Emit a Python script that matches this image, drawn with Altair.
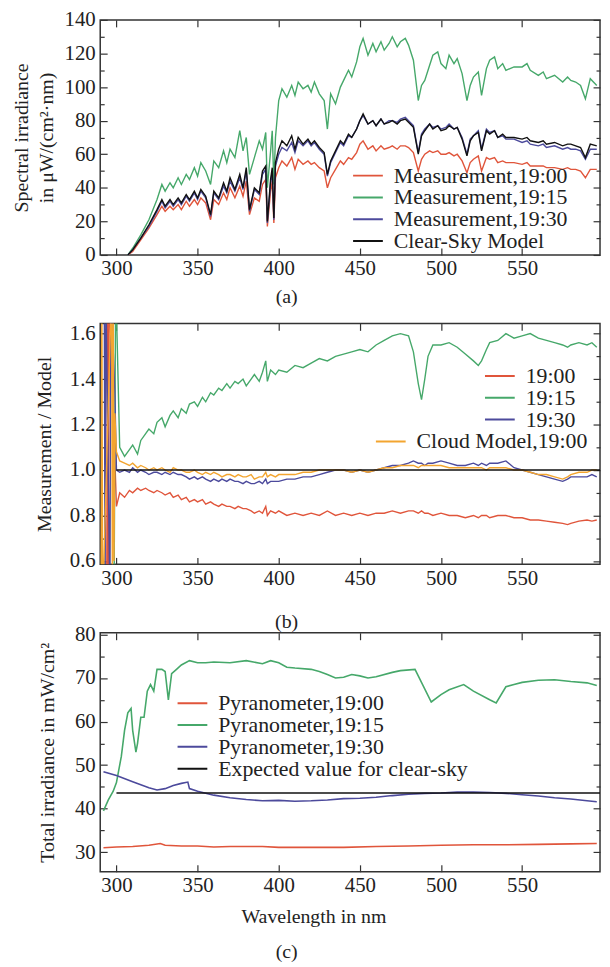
import altair as alt
import pandas as pd

FONT = "Liberation Serif"
W = 504
X_DOMAIN = [290, 598]
X_TICKS = [300, 350, 400, 450, 500, 550]

C_RED = "#e0553b"
C_GREEN = "#46a86a"
C_BLUE = "#4c4a9c"
C_BLACK = "#111111"
C_ORANGE = "#f3a530"

# ---------------- Panel (a) ----------------
A_SERIES = ["Measurement,19:00", "Measurement,19:15", "Measurement,19:30", "Clear-Sky Model"]
A_WL = [307, 310, 315, 320, 325, 328, 330, 333, 335, 338,
        340, 343, 345, 348, 350, 352, 355, 358, 360, 363,
        366, 368, 370, 373, 376, 378, 380, 382, 385, 388,
        390, 392, 393, 395, 396, 397, 398, 400, 402, 405,
        408, 410, 412, 415, 418, 420, 422, 425, 428, 430,
        432, 435, 438, 440, 443, 445, 448, 450, 452, 455,
        458, 460, 463, 465, 468, 470, 473, 475, 478, 480,
        483, 486, 488, 490, 493, 495, 498, 500, 503, 505,
        508, 510, 513, 516, 518, 520, 523, 525, 528, 530,
        533, 535, 538, 540, 545, 550, 553, 555, 560, 563,
        565, 570, 575, 578, 580, 583, 586, 589, 592, 596]
A_1915 = [0, 4, 12, 21, 33, 42, 38, 43, 40, 46,
          42, 48, 45, 52, 47, 55, 50, 42, 56, 52,
          62, 55, 63, 58, 74, 62, 70, 48, 58, 68,
          63, 73, 40, 62, 74, 42, 70, 92, 99, 94,
          101, 95, 103, 99, 101, 97, 103, 96, 92, 75,
          96, 90, 100, 104, 110, 106, 115, 124, 129, 119,
          126, 121, 127, 122, 126, 130, 124, 127, 129, 125,
          116, 92, 101, 104, 113, 119, 121, 114, 111, 119,
          114, 117, 108, 92, 101, 106, 109, 95, 111, 116,
          118, 111, 114, 110, 112, 112, 114, 110, 107, 109,
          105, 107, 103, 106, 104, 103, 101, 93, 105, 101]
A_CLEAR = [0, 3, 10, 18, 27, 33, 29, 33, 30, 34,
           31, 36, 33, 38, 34, 39, 35, 24, 38, 34,
           43, 38, 46, 39, 48, 40, 52, 27, 40, 37,
           50, 53, 20, 45, 52, 22, 55, 63, 68, 65,
           71, 63, 70, 66, 69, 66, 68, 64, 61, 48,
           56, 62, 68, 66, 72, 70, 75, 80, 84, 78,
           80, 77, 81, 78, 79, 80, 78, 80, 81, 79,
           76, 60, 71, 74, 78, 75, 77, 74, 75, 77,
           75, 76, 69, 59, 68, 71, 73, 62, 74, 72,
           74, 70, 72, 70, 70, 69, 70, 68, 67, 68,
           66, 67, 65, 66, 66, 65, 64, 58, 66, 65]
A_1930 = [0, 3, 10, 17, 26, 32, 28, 32, 29, 33,
          30, 35, 32, 37, 33, 38, 34, 23, 37, 33,
          41, 37, 44, 38, 46, 39, 50, 26, 39, 36,
          48, 51, 19, 43, 50, 21, 53, 60, 64, 62,
          67, 61, 68, 65, 68, 65, 67, 63, 60, 47,
          55, 61, 67, 65, 71, 70, 75, 80, 83, 78,
          80, 77, 81, 78, 80, 80, 79, 81, 82, 80,
          77, 61, 72, 75, 78, 76, 77, 75, 76, 78,
          75, 76, 70, 60, 69, 71, 74, 63, 75, 73,
          74, 70, 71, 69, 69, 67, 68, 66, 65, 66,
          64, 65, 63, 64, 63, 63, 62, 57, 63, 63]
A_1900 = [0, 2, 9, 16, 24, 29, 26, 29, 27, 30,
          27, 32, 29, 33, 30, 34, 31, 21, 33, 30,
          37, 33, 40, 34, 41, 35, 44, 24, 34, 32,
          42, 45, 17, 38, 44, 19, 46, 52, 56, 53,
          58, 51, 57, 54, 56, 54, 55, 52, 50, 40,
          46, 51, 56, 54, 58, 57, 61, 66, 68, 63,
          65, 62, 65, 63, 64, 65, 63, 65, 65, 64,
          61, 50, 57, 60, 62, 61, 62, 60, 60, 61,
          59, 60, 56, 49, 55, 57, 59, 50, 58, 57,
          58, 55, 56, 55, 55, 54, 55, 53, 53, 53,
          52, 52, 51, 52, 51, 51, 50, 46, 51, 51]
A_YDOMAIN = [0, 140]
A_YLABELS = [0, 20, 40, 60, 80, 100, 120, 140]
A_YTICKS = [0, 10, 20, 30, 40, 50, 60, 70, 80, 90, 100, 110, 120, 130, 140]

# ---------------- Panel (b) ----------------
B_SERIES = ["19:00", "19:15", "19:30"]
B_CLOUD = ["Cloud  Model,19:00"]
B_WL = [300, 302, 305, 308, 310, 313, 315, 318, 320, 323,
        325, 328, 330, 333, 335, 338, 340, 343, 345, 348,
        350, 353, 355, 358, 360, 363, 365, 368, 370, 373,
        375, 378, 380, 383, 385, 388, 390, 392, 393, 395,
        398, 400, 405, 410, 415, 420, 425, 430, 435, 440,
        445, 450, 455, 460, 465, 470, 475, 480, 483, 486,
        488, 490, 492, 495, 500, 505, 510, 515, 520, 523,
        525, 528, 530, 535, 540, 545, 550, 555, 560, 565,
        570, 575, 578, 580, 585, 590, 593, 596]
B_1915 = [1.70, 1.10, 1.06, 1.09, 1.11, 1.07, 1.13, 1.16, 1.18, 1.16,
          1.21, 1.23, 1.19, 1.24, 1.26, 1.23, 1.27, 1.25, 1.29, 1.30,
          1.28, 1.32, 1.30, 1.34, 1.33, 1.36, 1.35, 1.38, 1.36, 1.39,
          1.38, 1.40, 1.37, 1.40, 1.42, 1.39, 1.43, 1.48, 1.39, 1.44,
          1.42, 1.44, 1.43, 1.46, 1.45, 1.47, 1.49, 1.48, 1.50, 1.51,
          1.52, 1.53, 1.52, 1.55, 1.57, 1.59, 1.60, 1.59, 1.52, 1.38,
          1.31, 1.40, 1.50, 1.55, 1.55, 1.56, 1.54, 1.51, 1.48, 1.46,
          1.48, 1.53, 1.56, 1.57, 1.60, 1.58, 1.59, 1.60, 1.58, 1.57,
          1.56, 1.55, 1.54, 1.55, 1.56, 1.55, 1.56, 1.54]
B_1900 = [0.84, 0.90, 0.88, 0.91, 0.90, 0.92, 0.91, 0.92, 0.91, 0.90,
          0.91, 0.90, 0.89, 0.90, 0.88, 0.89, 0.87, 0.88, 0.86, 0.87,
          0.86, 0.87, 0.85, 0.86, 0.85, 0.84, 0.85, 0.84, 0.84, 0.83,
          0.84, 0.83, 0.83, 0.82, 0.81, 0.82, 0.81, 0.84, 0.80, 0.82,
          0.81, 0.82, 0.80, 0.81, 0.80, 0.81, 0.80, 0.82, 0.80, 0.81,
          0.80, 0.81, 0.80, 0.81, 0.81, 0.82, 0.81, 0.82, 0.82, 0.81,
          0.82, 0.81, 0.81, 0.80, 0.81, 0.80, 0.80, 0.79, 0.80, 0.79,
          0.80, 0.80, 0.79, 0.80, 0.80, 0.79, 0.79, 0.78, 0.78, 0.775,
          0.77, 0.765, 0.76, 0.765, 0.775, 0.78, 0.775, 0.78]
B_1930 = [1.00, 0.99, 1.00, 0.99, 1.01, 0.99, 1.00, 0.99, 0.98, 0.99,
          0.99, 0.98, 0.99, 0.98, 0.99, 0.98, 0.98, 0.97, 0.96, 0.97,
          0.96, 0.97, 0.96, 0.95, 0.96, 0.95, 0.96, 0.95, 0.96, 0.95,
          0.95, 0.94, 0.95, 0.94, 0.94, 0.95, 0.94, 0.96, 0.94, 0.95,
          0.95, 0.95, 0.96, 0.96, 0.97, 0.97, 0.98, 0.99, 1.00, 1.00,
          0.99, 1.00, 0.99, 1.00, 1.01, 1.02, 1.02, 1.03, 1.04, 1.03,
          1.03, 1.02, 1.03, 1.03, 1.04, 1.03, 1.02, 1.02, 1.03, 1.02,
          1.03, 1.02, 1.03, 1.03, 1.04, 1.01, 1.00, 0.99, 0.98, 0.97,
          0.96, 0.95, 0.96, 0.97, 0.97, 0.97, 0.98, 0.97]
B_CLOUD_VALS = [1.08, 1.04, 1.03, 1.02, 1.03, 1.01, 1.02, 1.01, 1.00, 1.01,
                1.00, 1.01, 1.00, 0.99, 1.01, 1.00, 1.00, 0.99, 0.99, 1.00,
                0.99, 0.98, 0.99, 0.98, 0.99, 0.98, 0.97, 0.98, 0.98, 0.97,
                0.98, 0.97, 0.97, 0.98, 0.96, 0.97, 0.97, 0.99, 0.97, 0.98,
                0.97, 0.98, 0.98, 0.98, 0.99, 0.99, 1.00, 1.00, 1.00, 1.00,
                0.99, 1.00, 0.99, 1.00, 1.01, 1.01, 1.02, 1.02, 1.02, 1.01,
                1.02, 1.02, 1.02, 1.02, 1.02, 1.01, 1.01, 1.01, 1.01, 1.01,
                1.01, 1.00, 1.01, 1.01, 1.01, 1.00, 1.00, 0.99, 0.98, 0.98,
                0.97, 0.96, 0.97, 0.98, 0.99, 0.99, 1.00, 1.00]
# noisy start below 300 nm
B_SPIKE_WL_1900 = [294, 294.5, 295, 295.5]
B_SPIKE_1900 = [0.40, 1.80, 0.40, 1.80]
B_SPIKE_WL_1915 = [298.5, 299.5]
B_SPIKE_1915 = [0.40, 1.80]
B_SPIKE_WL_1930 = [292.5, 293, 293.5, 296, 296.5, 299]
B_SPIKE_1930 = [1.80, 0.40, 1.80, 0.40, 1.80, 1.35]
B_SPIKE_WL_CLOUD = [290.5, 291, 291.5, 297, 297.5, 298, 298.5, 299]
B_SPIKE_CLOUD = [0.40, 1.80, 0.40, 1.80, 0.40, 1.80, 0.60, 1.25]
B_REF_WL = [300, 598]
B_REF = [1.0, 1.0]
B_YDOMAIN = [0.585, 1.645]
B_YLABELS = [0.6, 0.8, 1.0, 1.2, 1.4, 1.6]
B_YTICKS = [0.6, 0.7, 0.8, 0.9, 1.0, 1.1, 1.2, 1.3, 1.4, 1.5, 1.6]

# ---------------- Panel (c) ----------------
C_SERIES = ["Pyranometer,19:00", "Pyranometer,19:15", "Pyranometer,19:30",
            "Expected value for clear-sky"]
C_WL_1915 = [292, 295, 298, 300, 303, 305, 307, 309, 310, 312,
             313, 315, 317, 319, 321, 323, 325, 328, 330, 332,
             334, 337, 340, 345, 350, 355, 360, 370, 380, 390,
             395, 400, 405, 410, 420, 425, 430, 435, 440, 445,
             450, 455, 460, 470, 475, 484, 494, 500, 505, 514,
             520, 530, 534, 540, 545, 550, 560, 570, 580, 590, 596]
C_1915 = [39.5, 42, 44, 46, 52, 58, 62, 63, 58, 53,
          55, 61, 61, 67, 68.5, 67, 72, 72, 71.5, 65,
          71, 72, 73, 74, 73.5, 73.5, 73.7, 73.5, 74, 73.3,
          74, 73.5, 72.5, 72.3, 72, 71.5, 70.8, 70, 70.2, 70.8,
          70.5, 70, 70.3, 71.3, 71.7, 72, 64.5, 66.2, 67.3, 68.5,
          67, 65, 64.3, 68, 68.5, 69, 69.5, 69.6, 69.2, 68.9, 68.3]
C_WL_1930 = [292, 300, 310, 320, 325, 330, 335, 340, 344, 345,
             350, 360, 370, 380, 390, 400, 410, 420, 430, 440,
             450, 460, 470, 480, 490, 500, 510, 520, 530, 540,
             550, 560, 570, 580, 590, 596]
C_1930 = [48.5, 47.6, 46.2, 44.8, 44.3, 44.6, 45.3, 45.8, 46.1, 44.6,
          44.0, 43.1, 42.5, 42.1, 41.8, 41.9, 41.7, 41.8, 42.0, 42.3,
          42.4, 42.6, 43.0, 43.3, 43.5, 43.6, 43.8, 43.8, 43.7, 43.5,
          43.2, 42.9, 42.5, 42.2, 41.8, 41.6]
C_WL_1900 = [292, 300, 310, 320, 327, 330, 340, 350, 360, 370,
             380, 390, 400, 420, 440, 460, 480, 500, 520, 540,
             560, 580, 596]
C_1900 = [31.0, 31.2, 31.3, 31.6, 32.0, 31.6, 31.4, 31.4, 31.2, 31.3,
          31.3, 31.3, 31.1, 31.1, 31.1, 31.3, 31.4, 31.6, 31.7, 31.7,
          31.8, 31.9, 32.0]
C_WL_REF = [300, 598]
C_REF = [43.6, 43.6]
C_YDOMAIN = [25.5, 80.4]
C_YLABELS = [30, 40, 50, 60, 70, 80]
C_YTICKS = [30, 35, 40, 45, 50, 55, 60, 65, 70, 75, 80]


def long_df(parts):
    rows = []
    for name, wl, vals in parts:
        for w, v in zip(wl, vals):
            rows.append({"wl": w, "val": v, "series": name})
    return pd.DataFrame(rows)


def scales(ydomain):
    return (alt.Scale(domain=X_DOMAIN, nice=False, zero=False),
            alt.Scale(domain=ydomain, nice=False, zero=False))


def frame_layers(df, ydomain, H, yticks, major_test):
    xs, ys = scales(ydomain)
    common = dict(labels=False, domain=False, grid=False, title=None, ticks=True,
                  tickColor="#333333", tickWidth=1.2)
    ysize = {"condition": {"test": major_test, "value": 7}, "value": 4}
    out = []
    for xo, yo in (("top", "right"), ("bottom", "left")):
        out.append(alt.Chart(df).mark_line(opacity=0, clip=True).encode(
            x=alt.X("wl:Q", scale=xs,
                    axis=alt.Axis(orient=xo, offset=-H, values=X_TICKS, tickSize=7, **common)),
            y=alt.Y("val:Q", scale=ys,
                    axis=alt.Axis(orient=yo, offset=-W, values=yticks, tickSize=ysize, **common)),
            detail="series:N"))
    return out


def label_axes(ydomain, ylabels, yfmt, ytitle, ytitle_pad, xtitle=None):
    xs, ys = scales(ydomain)
    xaxis = dict(orient="bottom", values=X_TICKS, ticks=False, domain=False, grid=False,
                 labelPadding=3)
    if xtitle:
        xaxis.update(title=xtitle, titleX=215, titlePadding=11)
    else:
        xaxis.update(title=None)
    x = alt.X("wl:Q", scale=xs, axis=alt.Axis(**xaxis))
    y = alt.Y("val:Q", scale=ys, axis=alt.Axis(orient="left", values=ylabels, format=yfmt,
                                              ticks=False, domain=False, grid=False,
                                              labelPadding=5, title=ytitle,
                                              titlePadding=ytitle_pad, titleLineHeight=25))
    return x, y


def legend(lx, ly):
    return alt.Legend(orient="none", legendX=lx, legendY=ly, title=None)


def panel_title(txt, offset):
    return alt.TitleParams(txt, orient="bottom", anchor="middle", frame="group", dx=-64,
                           offset=offset, fontSize=20, fontWeight="normal", font=FONT)


# ---- panel a
HA, HB, HC = 237, 243, 241
df_a = long_df([(A_SERIES[0], A_WL, A_1900), (A_SERIES[1], A_WL, A_1915),
                (A_SERIES[2], A_WL, A_1930), (A_SERIES[3], A_WL, A_CLEAR)])
xa, ya = label_axes(A_YDOMAIN, A_YLABELS, "d", ["Spectral irradiance", "in μW/(cm²·nm)"], 8)
lines_a = alt.Chart(df_a).mark_line(clip=True, strokeWidth=1.4).encode(
    x=xa, y=ya,
    color=alt.Color("series:N", scale=alt.Scale(domain=A_SERIES,
                    range=[C_RED, C_GREEN, C_BLUE, C_BLACK]), legend=legend(254, 146)))
pa = alt.layer(lines_a, *frame_layers(df_a, A_YDOMAIN, HA, A_YTICKS, "datum.value % 20 === 0")) \
    .resolve_axis(x="independent", y="independent") \
    .properties(width=W, height=HA, title=panel_title("(a)", 8))

# ---- panel b
df_b = long_df([(B_SERIES[0], B_SPIKE_WL_1900 + B_WL, B_SPIKE_1900 + B_1900),
                (B_SERIES[1], B_SPIKE_WL_1915 + B_WL, B_SPIKE_1915 + B_1915),
                (B_SERIES[2], B_SPIKE_WL_1930 + B_WL, B_SPIKE_1930 + B_1930)])
df_bc = long_df([(B_CLOUD[0], B_SPIKE_WL_CLOUD + B_WL, B_SPIKE_CLOUD + B_CLOUD_VALS)])
df_br = long_df([("ref", B_REF_WL, B_REF)])
xb, yb = label_axes(B_YDOMAIN, B_YLABELS, ".1f", "Measurement / Model", 15)
xsb, ysb = scales(B_YDOMAIN)
lines_b = alt.Chart(df_b).mark_line(clip=True, strokeWidth=1.4).encode(
    x=xb, y=yb,
    color=alt.Color("series:N", scale=alt.Scale(domain=B_SERIES,
                    range=[C_RED, C_GREEN, C_BLUE]), legend=legend(387, 42)))
cloud_b = alt.Chart(df_bc).mark_line(clip=True, strokeWidth=1.4).encode(
    x=alt.X("wl:Q", scale=xsb, axis=None), y=alt.Y("val:Q", scale=ysb, axis=None),
    color=alt.Color("series:N", scale=alt.Scale(domain=B_CLOUD, range=[C_ORANGE]),
                    legend=legend(277, 108)))
ref_b = alt.Chart(df_br).mark_line(clip=True, strokeWidth=1.6, color=C_BLACK).encode(
    x=alt.X("wl:Q", scale=xsb, axis=None), y=alt.Y("val:Q", scale=ysb, axis=None))
pb = alt.layer(lines_b, cloud_b, ref_b,
               *frame_layers(df_b, B_YDOMAIN, HB, B_YTICKS, "round(datum.value * 10) % 2 === 0")) \
    .resolve_axis(x="independent", y="independent") \
    .resolve_scale(color="independent") \
    .properties(width=W, height=HB, title=panel_title("(b)", 24))

# ---- panel c
df_c = long_df([(C_SERIES[0], C_WL_1900, C_1900), (C_SERIES[1], C_WL_1915, C_1915),
                (C_SERIES[2], C_WL_1930, C_1930), (C_SERIES[3], C_WL_REF, C_REF)])
xc, yc = label_axes(C_YDOMAIN, C_YLABELS, "d", "Total irradiance in mW/cm²", 17,
                    xtitle="Wavelength in nm")
lines_c = alt.Chart(df_c).mark_line(clip=True, strokeWidth=1.6).encode(
    x=xc, y=yc,
    color=alt.Color("series:N", scale=alt.Scale(domain=C_SERIES,
                    range=[C_RED, C_GREEN, C_BLUE, C_BLACK]), legend=legend(77, 60)))
pc = alt.layer(lines_c, *frame_layers(df_c, C_YDOMAIN, HC, C_YTICKS, "datum.value % 10 === 0")) \
    .resolve_axis(x="independent", y="independent") \
    .properties(width=W, height=HC, title=panel_title("(c)", 16))

chart = alt.vconcat(pa, pb, pc, spacing=69, bounds="flush").resolve_scale(
    color="independent"
).properties(
    padding={"left": 2, "top": -4, "right": 0, "bottom": 0}
).configure_view(stroke="#333333", strokeWidth=1.5).configure_axis(
    labelFont=FONT, titleFont=FONT, labelFontSize=21, titleFontSize=20,
    titleFontWeight="normal", labelColor="#222222", titleColor="#222222"
).configure_legend(
    labelFont=FONT, labelFontSize=22, labelColor="#222222", symbolType="stroke",
    symbolSize=900, symbolStrokeWidth=2, rowPadding=0, clipHeight=22, labelOffset=10,
    padding=0, labelLimit=400
).configure_title(font=FONT, fontSize=20, fontWeight="normal", color="#222222")

chart.save("out.html", embed_options={"renderer": "svg", "actions": False})
